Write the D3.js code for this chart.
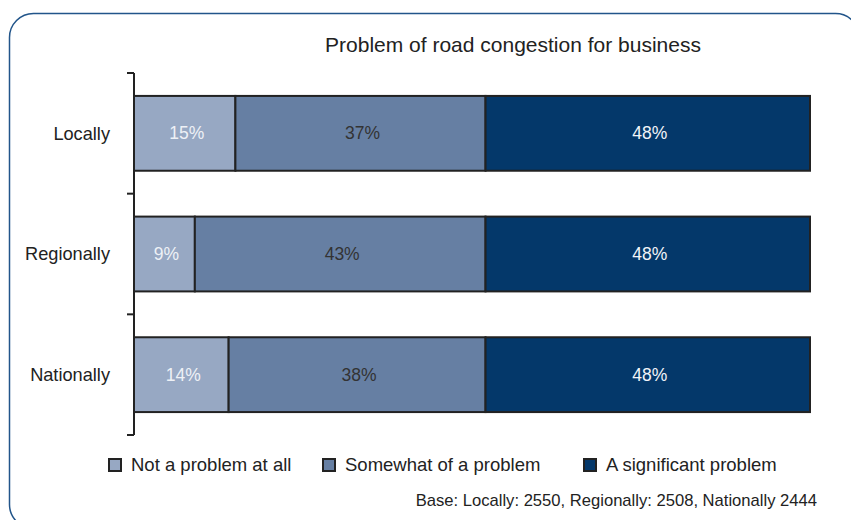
<!DOCTYPE html>
<html>
<head>
<meta charset="utf-8">
<script src="https://cdn.jsdelivr.net/npm/d3@7"></script>
<style>
body {
	margin: 0;
	background: white;
	font-family: "Liberation Sans", Arial, sans-serif;
}
</style>
</head>
<body>
<div id="chart"></div>
<script>

// -- data
var categories = ["Locally", "Regionally", "Nationally"];
var seriesNames = ["Not a problem at all", "Somewhat of a problem", "A significant problem"];
var notProblem = [15, 9, 14];
var somewhat = [37, 43, 38];
var significant = [48, 48, 48];
var title = "Problem of road congestion for business";
var baseNote = "Base: Locally: 2550, Regionally: 2508, Nationally 2444";

var colors = ["#97a8c3", "#667fa3", "#04386a"];
var labelColors = ["#eef1f6", "#333333", "#f2f4f8"];

const W = 851, H = 520;

var svg = d3.select("#chart")
	.append("svg")
		.attr("width", W)
		.attr("height", H);

// rounded frame
svg.append("rect")
	.attr("x", 9.5)
	.attr("y", 13.5)
	.attr("width", 850)
	.attr("height", 515)
	.attr("rx", 24)
	.attr("fill", "none")
	.attr("stroke", "#22558a")
	.attr("stroke-width", 1.5);

svg.append("text")
	.attr("x", 513)
	.attr("y", 52)
	.attr("text-anchor", "middle")
	.attr("font-size", 21)
	.attr("fill", "#222")
	.text(title);

var x = d3.scaleLinear()
	.domain([0, 100])
	.range([134, 810]);

var y = d3.scaleBand()
	.domain(categories)
	.range([73, 435])
	.paddingInner(0.38)
	.paddingOuter(0.19);

var stacked = d3.stack()
	.keys([0, 1, 2])
	.value((d, k) => d[k])(
		categories.map((c, i) => {
			var row = [notProblem[i], somewhat[i], significant[i]];
			row.cat = c;
			return row;
		}));

var layers = svg.selectAll(".layer")
	.data(stacked)
	.enter()
	.append("g")
	.attr("class", "layer");

layers.selectAll("rect")
	.data(d => d.map(p => ({p: p, k: d.key})))
	.enter()
	.append("rect")
	.attr("x", d => x(d.p[0]))
	.attr("y", d => y(d.p.data.cat))
	.attr("width", d => x(d.p[1]) - x(d.p[0]))
	.attr("height", y.bandwidth())
	.attr("fill", d => colors[d.k])
	.attr("stroke", "#222")
	.attr("stroke-width", 2);

layers.selectAll("text")
	.data(d => d.map(p => ({p: p, k: d.key})))
	.enter()
	.append("text")
	.attr("x", d => (x(d.p[0]) + x(d.p[1])) / 2 + 2)
	.attr("y", d => y(d.p.data.cat) + y.bandwidth() / 2)
	.attr("dy", "0.35em")
	.attr("text-anchor", "middle")
	.attr("font-size", 17.5)
	.attr("fill", d => labelColors[d.k])
	.text(d => (d.p[1] - d.p[0]) + "%");

// y axis with ticks at band edges
var edges = categories.map(c => y(c) - y.step() * y.paddingInner() / 2);
edges.push(435);
edges[0] = 73;

svg.append("line")
	.attr("x1", 134).attr("x2", 134)
	.attr("y1", 73).attr("y2", 435)
	.attr("stroke", "#222")
	.attr("stroke-width", 2);

svg.selectAll(".tick")
	.data(edges)
	.enter()
	.append("line")
	.attr("class", "tick")
	.attr("x1", 127).attr("x2", 134)
	.attr("y1", d => d).attr("y2", d => d)
	.attr("stroke", "#222")
	.attr("stroke-width", 2);

svg.selectAll(".cat")
	.data(categories)
	.enter()
	.append("text")
	.attr("class", "cat")
	.attr("x", 110)
	.attr("y", d => y(d) + y.bandwidth() / 2)
	.attr("dy", "0.35em")
	.attr("text-anchor", "end")
	.attr("font-size", 18.2)
	.attr("fill", "#222")
	.text(d => d);

// legend
var legendX = [109, 323, 584];
var legend = svg.selectAll(".legend")
	.data(seriesNames)
	.enter()
	.append("g")
	.attr("class", "legend")
	.attr("transform", (d, i) => "translate(" + legendX[i] + ",459)");

legend.append("rect")
	.attr("width", 12)
	.attr("height", 12)
	.attr("fill", (d, i) => colors[i])
	.attr("stroke", "#222")
	.attr("stroke-width", 2);

legend.append("text")
	.attr("x", 22)
	.attr("y", 6)
	.attr("dy", "0.35em")
	.attr("font-size", 18.5)
	.attr("fill", "#222")
	.text(d => d);

svg.append("text")
	.attr("x", 817)
	.attr("y", 506)
	.attr("text-anchor", "end")
	.attr("font-size", 16.6)
	.attr("fill", "#222")
	.text(baseNote);

</script>
</body>
</html>
